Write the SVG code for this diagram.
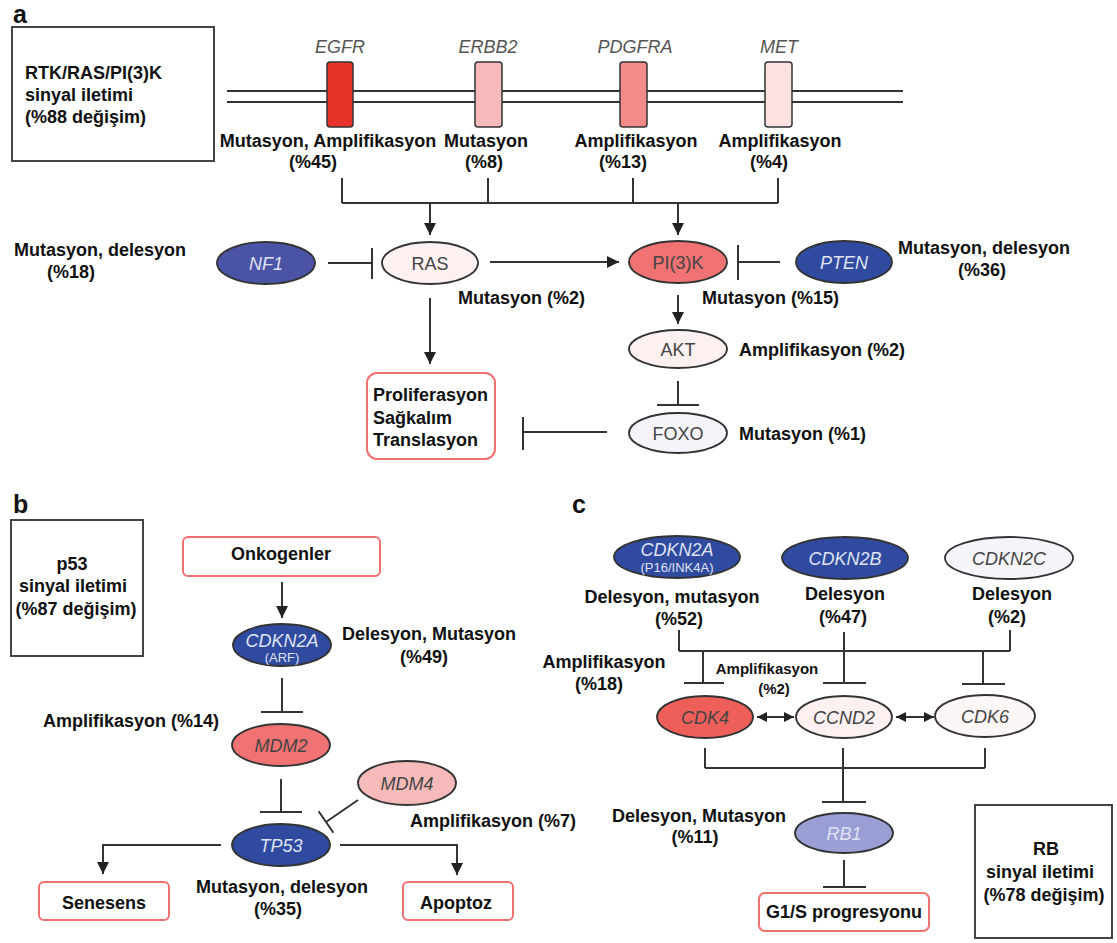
<svg xmlns="http://www.w3.org/2000/svg" width="1117" height="943" viewBox="0 0 1117 943">
<defs>
<style>
.lbl{font-family:"Liberation Sans",Arial,sans-serif;font-weight:bold;font-size:18px;fill:#111}
.sm{font-size:15px}
.c{text-anchor:middle}
.pl{font-family:"Liberation Sans",Arial,sans-serif;font-weight:bold;font-size:25px;fill:#111}
.gene{font-family:"Liberation Sans",Arial,sans-serif;font-style:italic;font-size:18px;fill:#555;text-anchor:middle}
.nt{font-family:"Liberation Sans",Arial,sans-serif;font-size:18px;fill:#444;text-anchor:middle}
.it{font-style:italic}
.wt{fill:#dfe3f4}
.sub{font-size:13px}
.ln{stroke:#333;stroke-width:2;fill:none}
.ell{stroke:#333;stroke-width:1.8}
.sum{fill:#fff;stroke:#444;stroke-width:2}
.out{fill:#fff;stroke:#f07070;stroke-width:2}
.rec{stroke:#333;stroke-width:1.5}
</style>
<marker id="ah" markerUnits="userSpaceOnUse" markerWidth="13" markerHeight="13" refX="12" refY="6" orient="auto-start-reverse" viewBox="0 0 13 13">
<path d="M0,0 L12,6 L0,12 z" fill="#222"/>
</marker>
<marker id="ahs" markerUnits="userSpaceOnUse" markerWidth="11" markerHeight="11" refX="10" refY="5" orient="auto-start-reverse" viewBox="0 0 11 11">
<path d="M0,0 L10,5 L0,10 z" fill="#222"/>
</marker>
</defs>
<rect width="1117" height="943" fill="#fff"/>

<!-- Panel labels -->
<text class="pl" x="13" y="23">a</text>
<text class="pl" x="13" y="513">b</text>
<text class="pl" x="572" y="513">c</text>

<!-- ===== Panel a ===== -->
<g id="summary-a">
<rect class="sum" x="12" y="27" width="202" height="134"/>
<text class="lbl" x="25" y="79">RTK/RAS/PI(3)K</text>
<text class="lbl" x="25" y="101">sinyal iletimi</text>
<text class="lbl" x="25" y="123">(%88 değişim)</text>
</g>

<g id="membrane">
<line class="ln" x1="227" y1="91" x2="903" y2="91"/>
<line class="ln" x1="227" y1="102" x2="903" y2="102"/>
</g>

<g id="EGFR">
<text class="gene" x="340" y="53">EGFR</text>
<rect class="rec" x="327" y="62" width="26" height="65" rx="3" fill="#e8332a"/>
<text class="lbl c" x="328" y="147">Mutasyon, Amplifikasyon</text>
<text class="lbl c" x="313" y="168">(%45)</text>
</g>
<g id="ERBB2">
<text class="gene" x="488" y="53">ERBB2</text>
<rect class="rec" x="475" y="62" width="27" height="65" rx="3" fill="#f7b9b9"/>
<text class="lbl c" x="486" y="147">Mutasyon</text>
<text class="lbl c" x="484" y="168">(%8)</text>
</g>
<g id="PDGFRA">
<text class="gene" x="635" y="53">PDGFRA</text>
<rect class="rec" x="620" y="62" width="27" height="65" rx="3" fill="#f48b89"/>
<text class="lbl c" x="636" y="147">Amplifikasyon</text>
<text class="lbl c" x="623" y="168">(%13)</text>
</g>
<g id="MET">
<text class="gene" x="779" y="53">MET</text>
<rect class="rec" x="765" y="62" width="27" height="65" rx="3" fill="#fde0e0"/>
<text class="lbl c" x="780" y="147">Amplifikasyon</text>
<text class="lbl c" x="769" y="168">(%4)</text>
</g>

<g id="NF1">
<ellipse class="ell" cx="266" cy="263" rx="49" ry="21" fill="#4a53a6"/>
<text class="nt it wt" x="266" y="270">NF1</text>
<text class="lbl" x="14" y="256">Mutasyon, delesyon</text>
<text class="lbl" x="47" y="278">(%18)</text>
</g>
<g id="RAS">
<ellipse class="ell" cx="430" cy="263" rx="48" ry="21" fill="#fdf0f0"/>
<text class="nt" x="430" y="270">RAS</text>
<text class="lbl" x="458" y="304">Mutasyon (%2)</text>
</g>
<g id="PI3K">
<ellipse class="ell" cx="678" cy="262" rx="49" ry="21" fill="#f07272"/>
<text class="nt" x="678" y="269">PI(3)K</text>
<text class="lbl" x="702" y="304">Mutasyon (%15)</text>
</g>
<g id="PTEN">
<ellipse class="ell" cx="844" cy="262" rx="48" ry="21" fill="#2f4a9e"/>
<text class="nt it wt" x="844" y="269">PTEN</text>
<text class="lbl" x="898" y="254">Mutasyon, delesyon</text>
<text class="lbl c" x="982" y="276">(%36)</text>
</g>
<g id="AKT">
<ellipse class="ell" cx="678" cy="349" rx="49" ry="19" fill="#fdf0f0"/>
<text class="nt" x="678" y="356">AKT</text>
<text class="lbl" x="739" y="356">Amplifikasyon (%2)</text>
</g>
<g id="FOXO">
<ellipse class="ell" cx="678" cy="433" rx="49" ry="20" fill="#f4f4fa"/>
<text class="nt" x="678" y="440">FOXO</text>
<text class="lbl" x="739" y="440">Mutasyon (%1)</text>
</g>
<g id="outcome-a">
<rect class="out" x="367" y="373" width="128" height="86" rx="10"/>
<text class="lbl" x="373" y="401">Proliferasyon</text>
<text class="lbl" x="373" y="424">Sağkalım</text>
<text class="lbl" x="373" y="446">Translasyon</text>
</g>

<!-- ===== Panel b ===== -->
<g id="summary-b">
<rect class="sum" x="11" y="520" width="132" height="136"/>
<text class="lbl c" x="72" y="570">p53</text>
<text class="lbl c" x="73" y="592">sinyal iletimi</text>
<text class="lbl c" x="76" y="615">(%87 değişim)</text>
</g>
<g id="Onkogenler">
<rect class="out" x="183" y="537" width="197" height="39" rx="5"/>
<text class="lbl c" x="281" y="560">Onkogenler</text>
</g>
<g id="CDKN2A-ARF">
<ellipse class="ell" cx="282" cy="645" rx="49" ry="21" fill="#2f4a9e"/>
<text class="nt it wt" x="282" y="647">CDKN2A</text>
<text class="nt wt sub" x="282" y="662">(ARF)</text>
<text class="lbl c" x="429" y="640">Delesyon, Mutasyon</text>
<text class="lbl c" x="424" y="663">(%49)</text>
</g>
<g id="MDM2">
<ellipse class="ell" cx="281" cy="745" rx="49" ry="21" fill="#f07272"/>
<text class="nt it" x="281" y="752">MDM2</text>
<text class="lbl" x="43" y="727">Amplifikasyon (%14)</text>
</g>
<g id="MDM4">
<ellipse class="ell" cx="407" cy="783" rx="49" ry="22" fill="#f6baba"/>
<text class="nt it" x="407" y="790">MDM4</text>
<text class="lbl" x="410" y="827">Amplifikasyon (%7)</text>
</g>
<g id="TP53">
<ellipse class="ell" cx="281" cy="845" rx="49" ry="21" fill="#2f4a9e"/>
<text class="nt it wt" x="281" y="852">TP53</text>
<text class="lbl c" x="282" y="893">Mutasyon, delesyon</text>
<text class="lbl c" x="278" y="915">(%35)</text>
</g>
<g id="Senesens">
<rect class="out" x="39" y="882" width="130" height="38" rx="5"/>
<text class="lbl c" x="104" y="909">Senesens</text>
</g>
<g id="Apoptoz">
<rect class="out" x="403" y="882" width="110" height="38" rx="5"/>
<text class="lbl c" x="456" y="909">Apoptoz</text>
</g>

<!-- ===== Panel c ===== -->
<g id="CDKN2A-P16">
<ellipse class="ell" cx="677" cy="557" rx="63" ry="21" fill="#2f4a9e"/>
<text class="nt it wt" x="677" y="556">CDKN2A</text>
<text class="nt wt sub" x="677" y="572">(P16/INK4A)</text>
<text class="lbl c" x="672" y="603">Delesyon, mutasyon</text>
<text class="lbl c" x="679" y="625">(%52)</text>
</g>
<g id="CDKN2B">
<ellipse class="ell" cx="845" cy="558" rx="63" ry="21" fill="#2f4a9e"/>
<text class="nt it wt" x="845" y="565">CDKN2B</text>
<text class="lbl c" x="845" y="600">Delesyon</text>
<text class="lbl c" x="843" y="623">(%47)</text>
</g>
<g id="CDKN2C">
<ellipse class="ell" cx="1009" cy="558" rx="64" ry="21" fill="#f4f4fa"/>
<text class="nt it" x="1009" y="565">CDKN2C</text>
<text class="lbl c" x="1012" y="600">Delesyon</text>
<text class="lbl c" x="1007" y="623">(%2)</text>
</g>
<g id="CDK4">
<ellipse class="ell" cx="705" cy="717" rx="48" ry="21" fill="#ef5f5a"/>
<text class="nt it" x="705" y="724">CDK4</text>
<text class="lbl c" x="604" y="668">Amplifikasyon</text>
<text class="lbl c" x="599" y="690">(%18)</text>
</g>
<g id="CCND2">
<ellipse class="ell" cx="844" cy="717" rx="48" ry="21" fill="#fdf0f0"/>
<text class="nt it" x="844" y="724">CCND2</text>
<text class="lbl sm c" x="767" y="674">Amplifikasyon</text>
<text class="lbl sm c" x="774" y="694">(%2)</text>
</g>
<g id="CDK6">
<ellipse class="ell" cx="985" cy="716" rx="50" ry="21" fill="#fdf6f6"/>
<text class="nt it" x="985" y="723">CDK6</text>
</g>
<g id="RB1">
<ellipse class="ell" cx="844" cy="833" rx="49" ry="20" fill="#9a9ed4"/>
<text class="nt it wt" x="844" y="840">RB1</text>
<text class="lbl c" x="699" y="822">Delesyon, Mutasyon</text>
<text class="lbl c" x="695" y="843">(%11)</text>
</g>
<g id="G1S">
<rect class="out" x="759" y="893" width="170" height="38" rx="6"/>
<text class="lbl c" x="844" y="918">G1/S progresyonu</text>
</g>
<g id="summary-c">
<rect class="sum" x="975" y="805" width="137" height="133"/>
<text class="lbl c" x="1046" y="855">RB</text>
<text class="lbl c" x="1040" y="878">sinyal iletimi</text>
<text class="lbl c" x="1044" y="901">(%78 değişim)</text>
</g>

<!-- ===== Connectors ===== -->
<g id="connectors">
<!-- panel a tree -->
<path class="ln" d="M342,178 V203 M488,178 V203 M633,178 V203 M778,178 V203 M342,203 H778"/>
<line class="ln" x1="430" y1="203" x2="430" y2="235" marker-end="url(#ah)"/>
<line class="ln" x1="678" y1="203" x2="678" y2="235" marker-end="url(#ah)"/>
<!-- NF1 -| RAS -->
<path class="ln" d="M328,263 H372 M372,248 V279"/>
<!-- RAS -> PI3K -->
<line class="ln" x1="490" y1="262" x2="619" y2="262" marker-end="url(#ah)"/>
<!-- PTEN -| PI3K -->
<path class="ln" d="M780,262 H738 M738,245 V280"/>
<!-- PI3K -> AKT -->
<line class="ln" x1="678" y1="295" x2="678" y2="324" marker-end="url(#ah)"/>
<!-- AKT -| FOXO -->
<path class="ln" d="M678,381 V405 M657,405 H699"/>
<!-- FOXO -| outcome -->
<path class="ln" d="M607,432 H523 M523,417 V450"/>
<!-- RAS -> outcome -->
<line class="ln" x1="430" y1="298" x2="430" y2="364" marker-end="url(#ah)"/>

<!-- panel b -->
<line class="ln" x1="282" y1="582" x2="282" y2="618" marker-end="url(#ah)"/>
<path class="ln" d="M282,678 V712 M261,712 H303"/>
<path class="ln" d="M281,779 V812 M260,812 H302"/>
<path class="ln" d="M358,800 L326,822 M318.6,811.3 L333.4,832.7"/>
<path class="ln" d="M221,845 H103 V874" marker-end="url(#ah)"/>
<path class="ln" d="M340,845 H457 V875" marker-end="url(#ah)"/>

<!-- panel c -->
<path class="ln" d="M679,630 V651 M844,632 V683 M1010,630 V651 M679,651 H1010"/>
<path class="ln" d="M703,651 V683 M684,683 H724"/>
<path class="ln" d="M823,683 H866"/>
<path class="ln" d="M983,651 V684 M962,684 H1005"/>
<line class="ln" x1="757" y1="717" x2="794" y2="717" stroke-width="2.5" marker-start="url(#ahs)" marker-end="url(#ahs)"/>
<line class="ln" x1="896" y1="717" x2="934" y2="717" stroke-width="2.5" marker-start="url(#ahs)" marker-end="url(#ahs)"/>
<path class="ln" d="M705,748 V768 M985,748 V768 M705,768 H985 M843,748 V802 M822,802 H866"/>
<path class="ln" d="M844,860 V887 M823,887 H866"/>
</g>
</svg>
